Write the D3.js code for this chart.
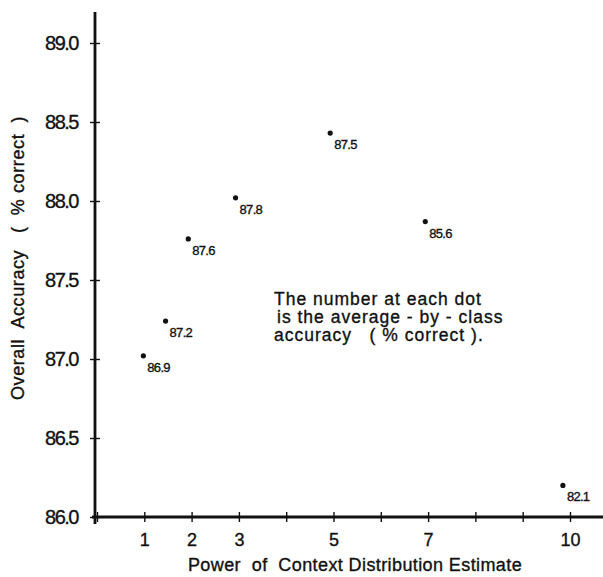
<!DOCTYPE html>
<html>
<head>
<meta charset="utf-8">
<script src="https://cdn.jsdelivr.net/npm/d3@7"></script>
<style>
  body { margin: 0; background: #fff; }
  text { font-family: "Liberation Sans", Arial, sans-serif; fill: #111; stroke: #111; stroke-width: 0.35px; }
</style>
</head>
<body>
<svg id="place" width="603" height="577"></svg>
<script>
var power = [0.98, 1.45, 1.93, 2.93, 4.93, 6.94, 9.85];
var overall = [87.02, 87.24, 87.76, 88.02, 88.43, 87.87, 86.2];
var byClass = ["86.9", "87.2", "87.6", "87.8", "87.5", "85.6", "82.1"];
var xTicks = [0, 1, 2, 3, 4, 5, 6, 7, 8, 9, 10];
var xLabels = [1, 2, 3, 5, 7, 10];
var yTicks = [86.0, 86.5, 87.0, 87.5, 88.0, 88.5, 89.0];
var note = ["The number at each dot", "is the average - by - class", "accuracy   ( % correct )."];

var svg = d3.select("#place");

var x = d3.scaleLinear()
    .domain([0, 10])
    .range([97, 570]);
var y = d3.scaleLinear()
    .domain([86, 89])
    .range([517, 43]);

// y axis
var y_axis = d3.axisLeft(y)
    .tickValues(yTicks)
    .tickFormat(d3.format(".1f"))
    .tickSize(5)
    .tickPadding(12)
    .tickSizeOuter(0);
var gy = svg.append("g")
    .attr("transform", "translate(95, 0)")
    .call(y_axis);
gy.select(".domain").remove();
gy.append("line")
    .attr("x1", 0).attr("x2", 0)
    .attr("y1", 12).attr("y2", 524)
    .attr("stroke", "#111").attr("stroke-width", 2.8);
gy.selectAll(".tick line").attr("x1", 5).attr("x2", -5).attr("stroke", "#111").attr("stroke-width", 1.4);
gy.selectAll(".tick text")
    .style("font-size", "20px")
    .style("letter-spacing", "-1.5px")
    .attr("fill", "#111");

// x axis
var x_axis = d3.axisBottom(x)
    .tickValues(xTicks)
    .tickFormat(function(d) { return xLabels.indexOf(d) >= 0 ? d : ""; })
    .tickSize(5)
    .tickPadding(11)
    .tickSizeOuter(0);
var gx = svg.append("g")
    .attr("transform", "translate(0, 517)")
    .call(x_axis);
gx.select(".domain").remove();
gx.append("line")
    .attr("x1", 92).attr("x2", 603)
    .attr("y1", 0).attr("y2", 0)
    .attr("stroke", "#111").attr("stroke-width", 2.8);
gx.selectAll(".tick line").attr("y1", -5).attr("y2", 5).attr("stroke", "#111").attr("stroke-width", 1.4);
gx.selectAll(".tick text")
    .style("font-size", "18px")
    .attr("fill", "#111");

// axis titles
svg.append("text")
    .attr("transform", "translate(355, 571)")
    .style("text-anchor", "middle")
    .style("font-size", "18px")
    .style("letter-spacing", "0.4px")
    .attr("xml:space", "preserve")
    .text("Power  of  Context Distribution Estimate");
svg.append("text")
    .attr("transform", "translate(24, 258)rotate(-90)")
    .style("text-anchor", "middle")
    .style("font-size", "18px")
    .style("letter-spacing", "0.6px")
    .attr("xml:space", "preserve")
    .text("Overall  Accuracy   (  % correct  )");

// dots and labels
var pts = svg.append("g");
pts.selectAll("circle")
    .data(power)
    .enter().append("circle")
    .attr("cx", function(d) { return x(d); })
    .attr("cy", function(d, i) { return y(overall[i]); })
    .attr("r", 2.6)
    .attr("fill", "#111");
pts.selectAll("text")
    .data(power)
    .enter().append("text")
    .attr("x", function(d) { return x(d) + 4; })
    .attr("y", function(d, i) { return y(overall[i]) + 16; })
    .style("font-size", "13px")
    .style("letter-spacing", "-0.7px")
    .text(function(d, i) { return byClass[i]; });

// note
svg.append("g").selectAll("text")
    .data(note)
    .enter().append("text")
    .attr("x", function(d, i) { return i == 1 ? 277 : 274; })
    .attr("y", function(d, i) { return 305 + i * 18; })
    .style("font-size", "17.5px")
    .style("letter-spacing", "1px")
    .attr("xml:space", "preserve")
    .text(function(d) { return d; });
</script>
</body>
</html>
